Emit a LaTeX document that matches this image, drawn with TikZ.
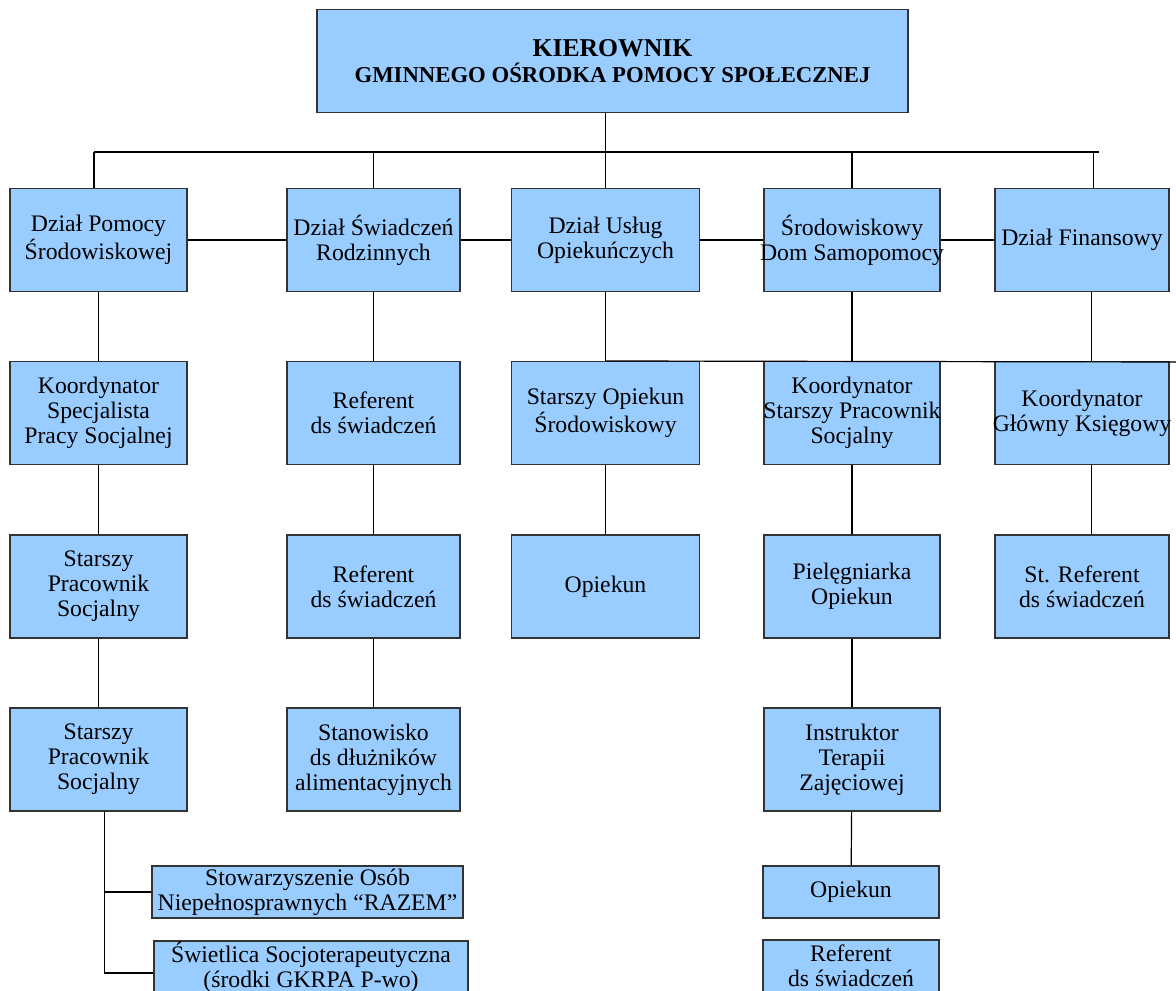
\documentclass[tikz,border=0pt]{standalone}
\usepackage{fontspec}
\setmainfont{Liberation Serif}
\usetikzlibrary{positioning}
\definecolor{niebieski}{RGB}{153,204,255}
\newcommand{\ciasno}[1]{\makebox[80pt]{#1}}

\begin{document}
\begin{tikzpicture}[x=0.506pt,y=-0.506pt,
  box/.style={draw=black!80,line width=0.75pt,fill=niebieski,align=center,inner sep=0pt,
    minimum height=51.9pt,font=\fontsize{12}{12.7}\selectfont},
  colA/.style={box,minimum width=89.6pt},
  colB/.style={box,minimum width=87.5pt},
  colC/.style={box,minimum width=95.1pt},
  colD/.style={box,minimum width=89.1pt},
  colE/.style={box,minimum width=88pt},
  mini/.style={box,minimum height=26.3pt},
  line/.style={draw,line width=0.6pt}]
\path[use as bounding box,fill=white] (0,0) rectangle (1176,991);

\node[box,minimum width=299pt,font=\bfseries\fontsize{12}{13.2}\selectfont] (kier) at (612.5,61)
  {{\fontsize{13}{14}\selectfont KIEROWNIK}\\{\fontsize{11.5}{13}\selectfont GMINNEGO OŚRODKA POMOCY SPOŁECZNEJ}};

\node[colA] (dpom) at (98.5,240) {Dział Pomocy\\Środowiskowej};
\node[colB] (dswi) at (373.5,240) {Dział Świadczeń\\Rodzinnych};
\node[colC] (dusl) at (605.5,240) {Dział Usług\\Opiekuńczych};
\node[colD] (sdom) at (852,240) {Środowiskowy\\\ciasno{Dom Samopomocy}};
\node[colE] (dfin) at (1082,240) {Dział Finansowy};

\node[colA] (kspec) at (98.5,413) {Koordynator\\Specjalista\\Pracy Socjalnej};
\node[colB] (ref1) at (373.5,413) {Referent\\ds świadczeń};
\node[colC] (sopiek) at (605.5,413) {Starszy Opiekun\\Środowiskowy};
\node[colD] (kspsoc) at (852,413) {Koordynator\\\ciasno{Starszy Pracownik}\\Socjalny};
\node[colE] (kgk) at (1082,413) {Koordynator\\\ciasno{Główny Księgowy}};

\node[colA] (sps1) at (98.5,586.5) {Starszy\\Pracownik\\Socjalny};
\node[colB] (ref2) at (373.5,586.5) {Referent\\ds świadczeń};
\node[colC] (opiek1) at (605.5,586.5) {Opiekun};
\node[colD] (pielg) at (852,586.5) {Pielęgniarka\\Opiekun};
\node[colE] (stref) at (1082,586.5) {St. Referent\\ds świadczeń};

\node[colA] (sps2) at (98.5,759.5) {Starszy\\Pracownik\\Socjalny};
\node[colB] (stan) at (373.5,759.5) {Stanowisko\\ds dłużników\\alimentacyjnych};
\node[colD] (instr) at (852,759.5) {Instruktor\\Terapii\\Zajęciowej};

\node[mini,minimum width=157.4pt] (stow) at (307.5,892) {Stowarzyszenie Osób\\Niepełnosprawnych “RAZEM”};
\node[mini,minimum width=158.9pt] (swietl) at (311,967) {Świetlica Socjoterapeutyczna\\(środki GKRPA P-wo)};
\node[mini,minimum width=89.1pt] (opiek2) at (851,892) {Opiekun};
\node[mini,minimum width=89.1pt] (ref3) at (851,966) {Referent\\ds świadczeń};

\coordinate (busL) at (94,152);
\coordinate (busR) at (1099,152);
\coordinate (prawy) at (1176,362);

\draw[line] (busL) -- (busR);
\draw[line] (dusl.north) -- (dusl.north |- kier.south);
\draw[line] (busL) -- (busL |- dpom.north);
\draw[line] (dswi.north) -- (dswi.north |- busL);
\draw[line] (sdom.north) -- (sdom.north |- busL);
\draw[line] ([xshift=6pt]dfin.north) -- ([xshift=6pt]dfin.north |- busL);

\draw[line] (dpom) -- (dswi);
\draw[line] (dswi) -- (dusl);
\draw[line] (dusl) -- (sdom);
\draw[line] (sdom) -- (dfin);

\draw[line] (dpom) -- (kspec);
\draw[line] (dswi) -- (ref1);
\draw[line] (dusl) -- (sopiek);
\draw[line] (sdom) -- (kspsoc);
\draw[line] ([xshift=5pt]dfin.south) -- ([xshift=5pt]kgk.north);
\draw[line] (sopiek.north) -- (prawy);

\draw[line] (kspec) -- (sps1);
\draw[line] (ref1) -- (ref2);
\draw[line] (sopiek) -- (opiek1);
\draw[line] (kspsoc) -- (pielg);
\draw[line] ([xshift=5pt]kgk.south) -- ([xshift=5pt]stref.north);

\draw[line] (sps1) -- (sps2);
\draw[line] (ref2) -- (stan);
\draw[line] (pielg) -- (instr);
\draw[line] (instr) -- (opiek2);

\draw[line] ([xshift=3pt]sps2.south) |- (stow.west);
\draw[line] ([xshift=3pt]sps2.south) |- ([yshift=-3pt]swietl.west);
\end{tikzpicture}
\end{document}
